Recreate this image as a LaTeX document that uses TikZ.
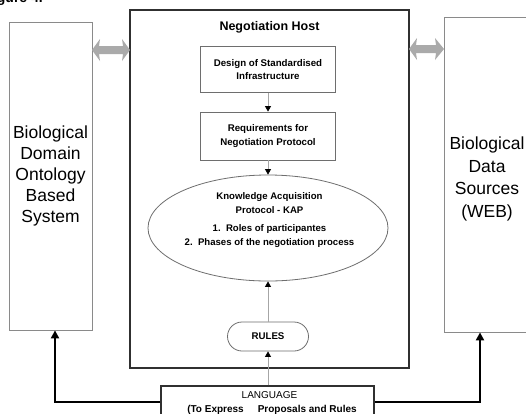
\documentclass[tikz,border=0pt]{standalone}
\usepackage{fontspec}
\setmainfont{Liberation Sans}
\usetikzlibrary{shapes.geometric,arrows.meta}
\definecolor{boxgray}{HTML}{8A8A8A}
\definecolor{arrgray}{HTML}{AAAAAA}
\definecolor{hostline}{HTML}{303030}
\tikzset{
  sidebox/.style={draw=boxgray, line width=0.8pt, align=center, inner sep=0,
    font=\fontsize{17.5}{21}\selectfont},
  hostbox/.style={draw=hostline, line width=1.6pt, inner sep=0},
  stepbox/.style={draw=boxgray!80!black, line width=0.8pt, align=center, inner sep=0,
    minimum width=135, font=\bfseries\fontsize{9.7}{13.5}\selectfont},
  flow/.style={draw=gray!70, line width=0.8pt,
    -{Triangle[length=5.5pt,width=6pt,color=black,fill=black]}},
  link/.style={draw=black, line width=2pt,
    -{Triangle[length=8pt,width=8pt]}},
  dblarrow/.style={fill=arrgray, draw=none},
  bodytext/.style={align=center, inner sep=0, font=\bfseries\fontsize{9.6}{14}\selectfont}
}
\begin{document}
\begin{tikzpicture}[x=1pt,y=-1pt]
\useasboundingbox (0,0) rectangle (526,413);
\clip (0,0) rectangle (526,413);
\fill[white] (0,0) rectangle (526,413);

% clipped caption fragment at top-left
\node[anchor=base east, inner sep=0, font=\bfseries\fontsize{14}{16}\selectfont] (cap) at (43,2.5) {Figure 4.};

% side boxes
\node[sidebox, minimum width=83, minimum height=308] (L) at (50.5,176)
  {Biological\\Domain\\Ontology\\Based\\System};
\node[sidebox, minimum width=86, minimum height=315] (R) at (487,174.5) {};
\node[align=center, inner sep=0, font=\fontsize{17.5}{22.5}\selectfont] (Rt) at (487,179)
  {Biological\\Data\\Sources\\(WEB)};

% host box
\node[hostbox, minimum width=279, minimum height=358] (H) at (269.5,189) {};
\node[inner sep=0, font=\bfseries\fontsize{12.5}{14}\selectfont] (HT) at (269.5,27) {Negotiation Host};

\node[stepbox, minimum height=46] (D) at (268,69.5) {Design of Standardised\\Infrastructure};
\node[stepbox, minimum height=48] (Q) at (268,136) {Requirements for\\Negotiation Protocol};

\node[draw=boxgray!80!black, line width=0.8pt, ellipse, minimum width=240, minimum height=106, inner sep=0] (K) at (268,228) {};
\node[bodytext] (KT) at (269.5,220)
  {Knowledge Acquisition\\Protocol - KAP\\[4pt]1.\ \ Roles of participantes\\2.\ \ Phases of the negotiation process};

\node[draw=boxgray!80!black, line width=0.8pt, rounded corners=14.5pt, minimum width=81, minimum height=29,
  inner sep=0, font=\bfseries\fontsize{9.7}{11}\selectfont] (RU) at (268,336.5) {RULES};

% language box
\node[draw=hostline, line width=1.4pt, minimum width=213, minimum height=32, inner sep=0] (LG) at (267.5,402) {};
\node[inner sep=0, font=\fontsize{10}{12}\selectfont] (LGa) at (269.5,395) {LANGUAGE};
\node[inner sep=0, font=\bfseries\fontsize{10}{12}\selectfont] (LGb) at (272,409.5) {(To Express\hspace{14pt}Proposals and Rules};

% internal flow arrows
\draw[flow] (D.south) -- (Q.north);
\draw[flow] (Q.south) -- (K.north);
\draw[flow] (RU.north) -- (K.south);
\draw[flow] (LG.north -| RU.south) -- (RU.south);

% black links
\draw[link] (LG.west) -| ([xshift=4.5pt]L.south);
\draw[link] (LG.east) -| ([xshift=-7pt]R.south);

% grey double arrows
\fill[dblarrow] (92,50) -- (100,39) -- (99,46) -- (123,46) -- (122,39) -- (130,50)
  -- (122,61) -- (123,54) -- (99,54) -- (100,61) -- cycle;
\fill[dblarrow] (409,49) -- (417,38) -- (416,45) -- (436,45) -- (435,38) -- (444,49)
  -- (435,60) -- (436,53) -- (416,53) -- (417,60) -- cycle;
\end{tikzpicture}
\end{document}
